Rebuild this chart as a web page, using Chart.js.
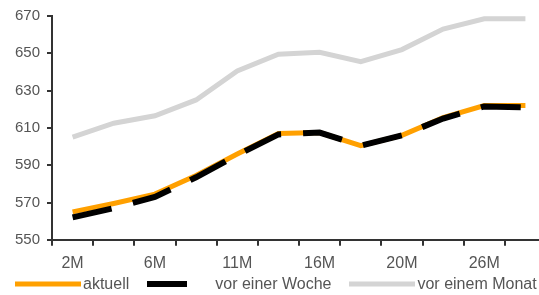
<!DOCTYPE html>
<html>
<head>
<meta charset="utf-8">
<script src="https://cdn.jsdelivr.net/npm/chart.js@4/dist/chart.umd.min.js"></script>
<style>
    html, body {
        margin: 0;
        padding: 0;
        background: #fff;
        width: 539px;
        height: 295px;
        overflow: hidden;
    }
    #chart-box {
        position: absolute;
        left: 0;
        top: 0;
        width: 546px;
        height: 281px;
    }
    #legend {
        position: absolute;
        left: 0;
        top: 275px;
        display: flex;
        align-items: center;
        gap: 18px;
        padding-left: 15px;
        white-space: nowrap;
        font-family: "Liberation Sans", Arial, sans-serif;
        font-size: 16px;
        color: #555;
    }
    .legend-item {
        display: flex;
        align-items: center;
    }
    .legend-item svg {
        margin-right: 2px;
    }
</style>
</head>
<body>
<div id="chart-box"><canvas id="priceChart"></canvas></div>
<div id="legend"></div>
<script>
// Category labels (only every other one is printed on the axis)
const labels = ['2M', '', '6M', '', '11M', '', '16M', '', '20M', '', '26M', ''];

// Series values
const aktuell = [565, 569.5, 574.5, 584.5, 596, 607, 607.5, 600.5, 606, 615.5, 622, 622];
const vorEinerWoche = [562, 567, 573, 583.5, 595.5, 606.5, 607.5, 600.5, 606, 615, 621.5, 621];
const vorEinemMonat = [605, 612.5, 616.5, 625, 640.5, 649.5, 650.5, 645.5, 652, 663, 668.5, 668.5];

// Y axis range
const yMin = 550;
const yMax = 670;
const yStep = 20;

const axisColor = '#333';
const textColor = '#555';
const fontFamily = '"Liberation Sans", Arial, sans-serif';

const datasets = [
    { label: 'aktuell', data: aktuell, borderColor: '#ffa000', borderWidth: 5, borderDash: [], order: 2 },
    { label: 'vor einer Woche', data: vorEinerWoche, borderColor: '#000', borderWidth: 6, borderDash: [40, 22], order: 1 },
    { label: 'vor einem Monat', data: vorEinemMonat, borderColor: '#d4d4d4', borderWidth: 5, borderDash: [], order: 3 },
];

// Legend drawn as html below the canvas (it runs off the right edge like the original)
function buildLegend() {
    const legend = document.getElementById('legend');
    legend.innerHTML = '';
    datasets.forEach(ds => {
        const item = document.createElement('div');
        item.className = 'legend-item';
        const dashed = ds.borderDash.length > 0;
        const dash = dashed ? `stroke-dasharray="${ds.borderDash.join(' ')}"` : '';
        const x2 = dashed ? 62 : 66; // stop before a second dash starts
        item.innerHTML = `
            <svg width="66" height="8">
                <line x1="0" y1="4" x2="${x2}" y2="4" stroke="${ds.borderColor}" stroke-width="${ds.borderWidth}" ${dash}/>
            </svg>
            <span>${ds.label}</span>`;
        legend.appendChild(item);
    });
}

const ctx = document.getElementById('priceChart').getContext('2d');
new Chart(ctx, {
    type: 'line',
    data: {
        labels: labels,
        datasets: datasets.map(ds => ({
            label: ds.label,
            data: ds.data,
            borderColor: ds.borderColor,
            borderWidth: ds.borderWidth,
            borderDash: ds.borderDash,
            borderCapStyle: 'butt',
            pointRadius: 0,
            tension: 0,
            fill: false,
            order: ds.order,
        })),
    },
    options: {
        responsive: true,
        maintainAspectRatio: false,
        animation: false,
        layout: { padding: { top: 11, left: 0, right: 0, bottom: 0 } },
        plugins: {
            legend: { display: false },
            tooltip: { enabled: false },
        },
        scales: {
            x: {
                offset: true,
                grid: {
                    offset: true,
                    drawOnChartArea: false,
                    tickLength: 6,
                    color: axisColor,
                    lineWidth: 2,
                },
                border: { color: axisColor, width: 2 },
                ticks: {
                    autoSkip: false,
                    maxRotation: 0,
                    padding: 8,
                    color: textColor,
                    font: { family: fontFamily, size: 16 },
                },
            },
            y: {
                min: yMin,
                max: yMax,
                afterFit: scale => { scale.width = 52; },
                grid: {
                    drawOnChartArea: false,
                    tickLength: 5,
                    color: axisColor,
                    lineWidth: 2,
                },
                border: { color: axisColor, width: 2 },
                ticks: {
                    stepSize: yStep,
                    padding: 7,
                    color: textColor,
                    font: { family: fontFamily, size: 15 },
                },
            },
        },
    },
});

buildLegend();
</script>
</body>
</html>
